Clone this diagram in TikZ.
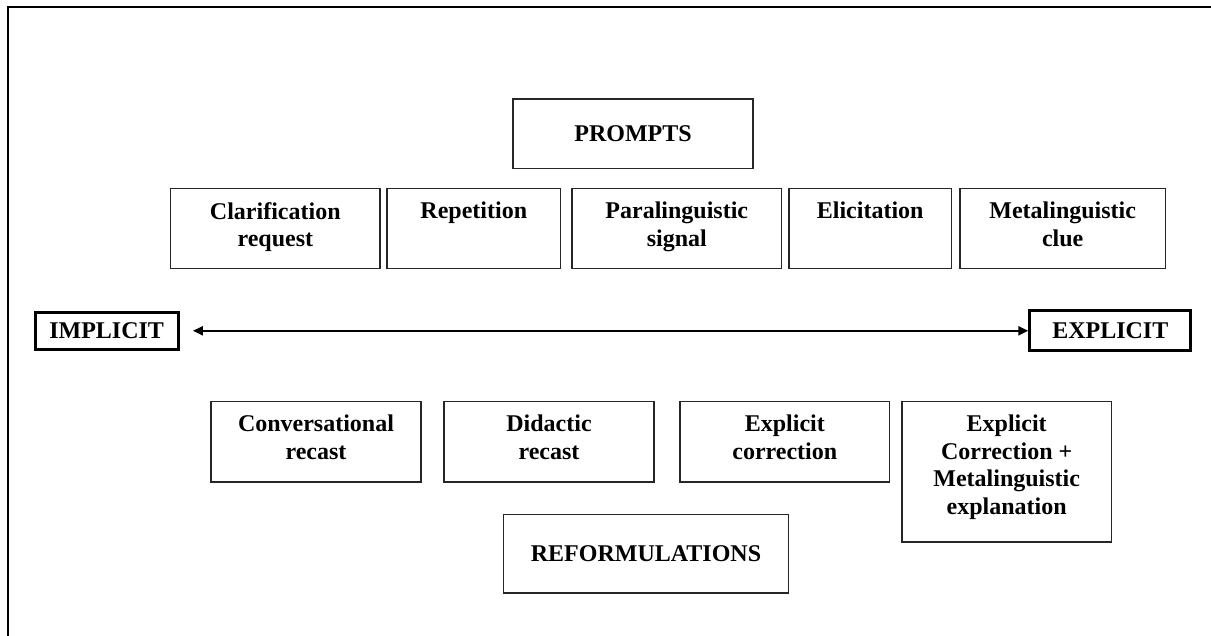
\documentclass[tikz,border=0pt]{standalone}
\usepackage{fontspec}
\setmainfont{Liberation Serif}
\usetikzlibrary{arrows.meta}
\begin{document}
\begin{tikzpicture}[x=0.5pt,y=-0.5pt,
  bx/.style={draw=black!85, line width=0.8pt, inner sep=0pt},
  ends/.style={draw=black, line width=1.5pt, inner sep=0pt, font=\bfseries\fontsize{12}{13.75}\selectfont},
  lbl/.style={anchor=north, inner sep=0pt, align=center, font=\bfseries\fontsize{12}{13.75}\selectfont},
  ttl/.style={bx, font=\bfseries\fontsize{12}{13.75}\selectfont}]
\useasboundingbox (0,0) rectangle (1211,636);
\clip (0,0) rectangle (1211,636);
\fill[white] (0,0) rectangle (1211,636);
\draw[line width=1pt] (8,7) rectangle (1240,670);
% PROMPTS
\node[ttl, minimum width=120pt, minimum height=34.7pt] (prompts) at (633,134) {PROMPTS};
% prompt types
\node[bx, minimum width=104.65pt, minimum height=40pt] (clar) at (275.3,228.7) {};
\node[bx, minimum width=86.85pt, minimum height=40pt] (rep) at (473.8,228.7) {};
\node[bx, minimum width=104.8pt, minimum height=40pt] (para) at (676.8,228.7) {};
\node[bx, minimum width=81.25pt, minimum height=40pt] (elic) at (870.2,228.7) {};
\node[bx, minimum width=102.75pt, minimum height=40pt] (meta) at (1062.7,228.7) {};
\node[lbl] (tclar) at ([yshift=-7pt]clar.north) {Clarification\\request};
\node[lbl] (trep) at ([yshift=-7pt]rep.north) {Repetition};
\node[lbl] (tpara) at ([yshift=-7pt]para.north) {Paralinguistic\\signal};
\node[lbl] (telic) at ([yshift=-7pt]elic.north) {Elicitation};
\node[lbl] (tmeta) at ([yshift=-7pt]meta.north) {Metalinguistic\\clue};
% axis
\node[ends, minimum width=71.4pt, minimum height=18.5pt] (impl) at (106.6,330.8) {IMPLICIT};
\node[ends, minimum width=80.5pt, minimum height=19.8pt] (expl) at (1110.3,330.8) {EXPLICIT};
\draw[line width=1pt, {Triangle[length=5pt,width=4.5pt]}-{Triangle[length=5pt,width=4.5pt]}, shorten <=6.7pt] (impl.east) -- (expl.west);
% reformulation types
\node[bx, minimum width=105pt, minimum height=40pt] (conv) at (316,441.7) {};
\node[bx, minimum width=105pt, minimum height=40pt] (did) at (549,441.7) {};
\node[bx, minimum width=104.85pt, minimum height=40pt] (expc) at (784.8,441.7) {};
\node[bx, minimum width=104.7pt, minimum height=70pt] (expm) at (1006.7,471.7) {};
\node[lbl] (tconv) at ([yshift=-7pt]conv.north) {Conversational\\recast};
\node[lbl] (tdid) at ([yshift=-7pt]did.north) {Didactic\\recast};
\node[lbl] (texpc) at ([yshift=-7pt]expc.north) {Explicit\\correction};
\node[lbl] (texpm) at ([yshift=-7pt]expm.north) {Explicit\\Correction +\\Metalinguistic\\explanation};
% REFORMULATIONS
\node[ttl, minimum width=142.5pt, minimum height=39.2pt] (reform) at (646,553.5) {REFORMULATIONS};
\end{tikzpicture}
\end{document}
